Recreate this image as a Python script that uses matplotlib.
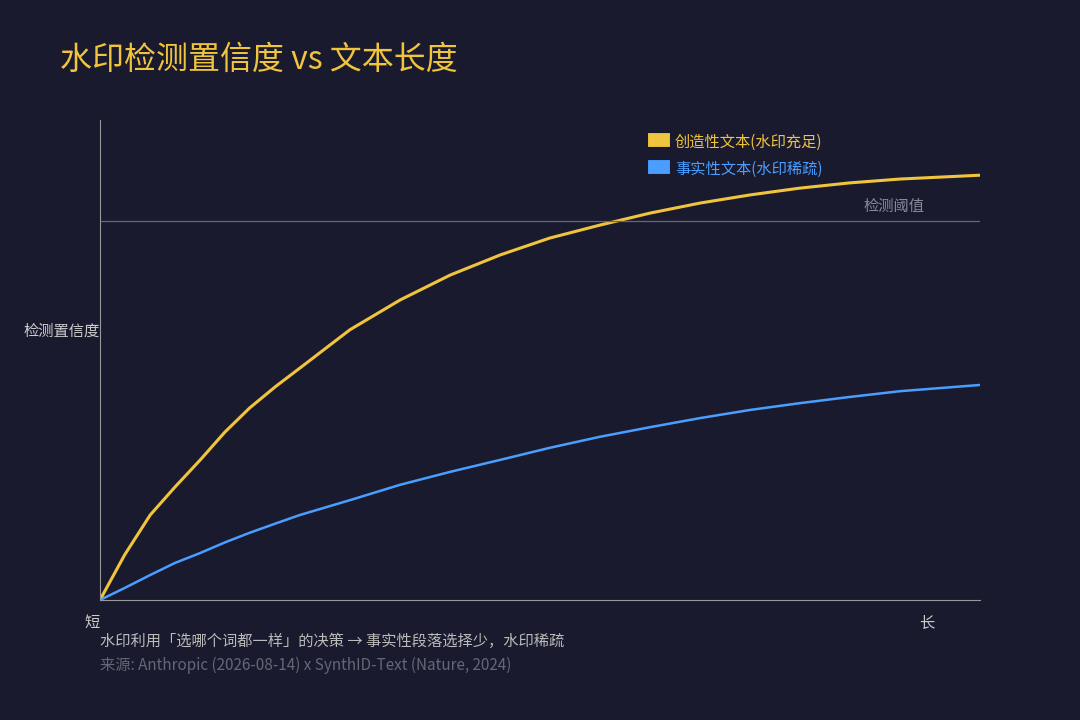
import matplotlib
matplotlib.use("Agg")
import matplotlib.pyplot as plt

plt.rcParams['font.family'] = ['Noto Sans CJK SC', 'DejaVu Sans']

x_len = [0.0, 0.028, 0.057, 0.085, 0.114, 0.142, 0.170, 0.199, 0.227, 0.284, 0.341, 0.398, 0.455, 0.511, 0.568, 0.625, 0.682, 0.739, 0.795, 0.852, 0.909, 1.0]
creative = [0.0, 0.094, 0.177, 0.235, 0.292, 0.350, 0.400, 0.444, 0.483, 0.563, 0.625, 0.677, 0.719, 0.754, 0.781, 0.806, 0.827, 0.844, 0.858, 0.869, 0.877, 0.885]
factual = [0.0, 0.025, 0.052, 0.077, 0.098, 0.120, 0.140, 0.159, 0.177, 0.208, 0.240, 0.267, 0.292, 0.317, 0.340, 0.360, 0.379, 0.396, 0.410, 0.423, 0.435, 0.448]
threshold = 0.79

bg = '#1a1a2e'
yellow = '#f0c43c'
blue = '#4a9eff'

fig = plt.figure(figsize=(10.8, 7.2), dpi=100, facecolor=bg)
ax = fig.add_axes([100/1080, 120/720, 880/1080, 480/720], facecolor=bg)
ax.plot(x_len, creative, color=yellow, lw=2.2, label='创造性文本(水印充足)')
ax.plot(x_len, factual, color=blue, lw=1.8, label='事实性文本(水印稀疏)')
ax.axhline(threshold, color='#666677', lw=0.9)
ax.text(0.937, threshold + 0.012, '检测阈值', color='#888899', fontsize=11, ha='right', va='bottom')
ax.set_xlim(0, 1)
ax.set_ylim(0, 1)
for s in ['top', 'right']:
    ax.spines[s].set_visible(False)
for s in ['left', 'bottom']:
    ax.spines[s].set_color('#999999')
ax.set_xticks([0, 0.94])
ax.set_xticklabels(['短', '长'], color='#cccccc', fontsize=11)
ax.tick_params(axis='x', length=0, pad=10)
ax.set_yticks([])
ax.set_ylabel('检测置信度', color='#cccccc', fontsize=11, rotation=0, ha='right', va='center')
ax.yaxis.set_label_coords(0.0, 0.56)
for lbl in ax.get_xticklabels()[:1]:
    lbl.set_ha('right')

leg = ax.legend(loc='upper left', bbox_to_anchor=(0.615, 1.0), frameon=False, fontsize=11,
                handlelength=0.5, handleheight=1.3, handletextpad=0.8, labelspacing=0.6)
for h in leg.legend_handles:
    h.set_linewidth(10)
for t, c in zip(leg.get_texts(), [yellow, blue]):
    t.set_color(c)

fig.text(60/1080, 1 - 60/720, '水印检测置信度 vs 文本长度', color=yellow, fontsize=23, va='center')
fig.text(100/1080, 1 - 641/720, '水印利用「选哪个词都一样」的决策 → 事实性段落选择少，水印稀疏', color='#bbbbbb', fontsize=11, va='center')
fig.text(100/1080, 1 - 665/720, '来源: Anthropic (2026-08-14) x SynthID-Text (Nature, 2024)', color='#666677', fontsize=11, va='center')

fig.savefig('out.png', dpi=100, facecolor=bg)
